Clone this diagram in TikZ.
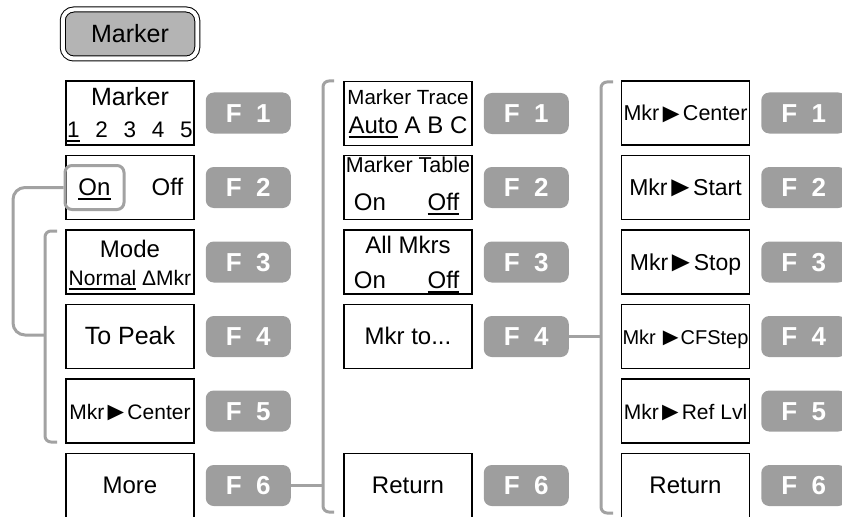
\documentclass[tikz,border=0pt]{standalone}
\usepackage{fontspec}
\usepackage{graphicx}
\setmainfont{Liberation Sans}
\usetikzlibrary{positioning}
\definecolor{keygray}{HTML}{9E9E9E}
\definecolor{linegray}{HTML}{A2A2A2}
\definecolor{hardfill}{HTML}{B4B4B4}
\newcommand\fs[1]{\fontsize{#1}{#1}\selectfont}
\newcommand\mtri{\kern-2pt\raisebox{-1.2pt}{\scalebox{1.3}[1.25]{►}}\kern-2pt}
\newcommand\ulin[1]{\setbox0\hbox{#1}\rlap{\rule[-4pt]{\wd0}{1.6pt}}\box0\relax}

\begin{document}
\begin{tikzpicture}[
  x=1pt,y=-1pt,
  menubox/.style={draw=black,line width=1.1pt,fill=white,minimum width=128pt,minimum height=64pt,
                  inner sep=0pt,text height=16pt,text depth=0pt,font=\fs{24}},
  lbl/.style={inner sep=0pt,text height=16pt,text depth=0pt,font=\fs{24}},
  fkey/.style={fill=keygray,rounded corners=8pt,minimum width=85pt,minimum height=41pt,inner sep=0pt,
               text=white,font=\bfseries\fs{26},text height=18pt,text depth=0pt},
  hardkey/.style={draw=black,line width=1pt,double=white,double distance=4pt,fill=hardfill,
                  rounded corners=11pt,minimum width=134.5pt,minimum height=49pt,inner sep=0pt,
                  font=\fs{25},text height=17pt,text depth=0pt},
  onframe/.style={draw=linegray,line width=3pt,rounded corners=7pt,minimum width=59pt,minimum height=44pt,
                  inner sep=0pt,text height=16pt,text depth=0pt,font=\fs{24}},
  bracket/.style={draw=linegray,line width=3pt,rounded corners=6pt},
]
\useasboundingbox (0,0) rectangle (842,516);

% ===== hard key =====
\node[hardkey] (mkey) at (130,34) {Marker};

% ===== column 1: Marker menu =====
\node[menubox] (a1) at (130,113) {};
\node[lbl,font=\fs{25}] (a1t) at ([yshift=15.5pt]a1.center) {Marker};
\node[lbl,font=\fs{22.5}] (a1b) at ([yshift=-16.5pt]a1.center)
  {\ulin{1}\hspace{0.7em}2\hspace{0.7em}3\hspace{0.7em}4\hspace{0.7em}5};
\node[menubox] (a2) at (130,187.5) {};
\node[onframe] (on) at ([xshift=-35.5pt]a2.center) {\ulin{On}};
\node[lbl] (a2r) at ([xshift=37.5pt]a2.center) {Off};
\node[menubox] (a3) at (130,262) {};
\node[lbl] (a3t) at ([yshift=13pt]a3.center) {Mode};
\node[lbl,font=\fs{21}] (a3b) at ([yshift=-15.5pt]a3.center) {\ulin{Normal} ΔMkr};
\node[menubox,font=\fs{25}] (a4) at (130,336.5) {To Peak};
\node[menubox,font=\fs{21}] (a5) at (130,411) {Mkr\mtri Center};
\node[menubox] (a6) at (130,485.5) {More};
\foreach \r in {1,...,6}{\node[fkey,right=11pt of a\r] (ka\r) {F\hspace{0.55em}\r};}

% ===== column 2: Marker More =====
\node[menubox] (b1) at (408,113.5) {};
\node[lbl,font=\fs{20.5}] (b1t) at ([yshift=16.7pt]b1.center) {Marker Trace};
\node[lbl] (b1b) at ([yshift=-12pt]b1.center) {\ulin{Auto} A B C};
\node[menubox] (b2) at (408,187.5) {};
\node[lbl,font=\fs{21.5}] (b2t) at ([yshift=23.5pt]b2.center) {Marker Table};
\node[lbl] (b2l) at ([shift={(-38pt,-15pt)}]b2.center) {On};
\node[lbl] (b2r) at ([shift={(35.5pt,-15pt)}]b2.center) {\ulin{Off}};
\node[menubox] (b3) at (408,262) {};
\node[lbl] (b3t) at ([yshift=16.2pt]b3.center) {All Mkrs};
\node[lbl] (b3l) at ([shift={(-38pt,-18.8pt)}]b3.center) {On};
\node[lbl] (b3r) at ([shift={(35.5pt,-18.8pt)}]b3.center) {\ulin{Off}};
\node[menubox] (b4) at (408,336.5) {Mkr to...};
\node[menubox] (b6) at (408,485.5) {Return};
\foreach \r in {1,2,3,4,6}{\node[fkey,right=11pt of b\r] (kb\r) {F\hspace{0.55em}\r};}

% ===== column 3: Mkr to... =====
\node[menubox,font=\fs{21.5}] (c1) at (685.5,113) {Mkr\mtri Center};
\node[menubox,font=\fs{23}] (c2) at (685.5,187.5) {Mkr\mtri Start};
\node[menubox,font=\fs{23}] (c3) at (685.5,262) {Mkr\mtri Stop};
\node[menubox,font=\fs{20}] (c4) at (685.5,336.5) {Mkr\kern4pt\mtri\kern-1pt CFStep};
\node[menubox,font=\fs{21}] (c5) at (685.5,411) {Mkr\mtri Ref Lvl};
\node[menubox] (c6) at (685.5,485.5) {Return};
\foreach \r in {1,...,6}{\node[fkey,right=11pt of c\r] (kc\r) {F\hspace{0.55em}\r};}

% ===== brackets and links =====
\coordinate (brAt) at (323,81);
\coordinate (brAb) at (323,512);
\draw[bracket] ([xshift=11pt]brAt) -- (brAt) -- (brAb) -- ([xshift=11pt]brAb);
\draw[bracket] (ka6.east) -- (ka6.east -| brAt);

\coordinate (brBt) at (601,82);
\coordinate (brBb) at (601,513);
\draw[bracket] ([xshift=12pt]brBt) -- (brBt) -- (brBb) -- ([xshift=12pt]brBb);
\draw[bracket] (kb4.east) -- (kb4.east -| brBt);

\coordinate (brCt) at (45,231);
\coordinate (brCb) at (45,442);
\draw[bracket] ([xshift=12pt]brCt) -- (brCt) -- (brCb) -- ([xshift=12pt]brCb);
\coordinate (loopc) at (13,335);
\draw[bracket,rounded corners=12pt] (on.west) -| (loopc) -- (loopc -| brCt);

\end{tikzpicture}
\end{document}
